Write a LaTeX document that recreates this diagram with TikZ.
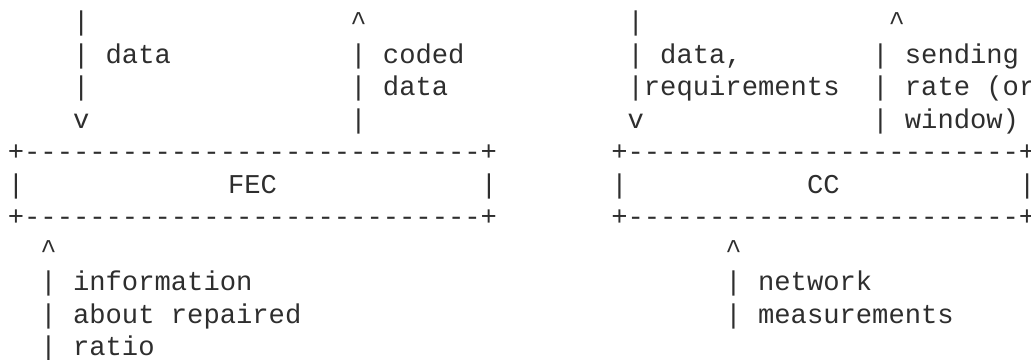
\documentclass[tikz,border=0pt]{standalone}
\usepackage{fontspec}
\setmonofont{Liberation Mono}
\definecolor{ink}{HTML}{2E2E2E}
\tikzset{ascii/.style={anchor=base west,inner sep=0pt,outer sep=0pt,text=ink,
    font=\ttfamily\fontsize{20.38pt}{24pt}\selectfont}}
\newcommand\up{\textasciicircum}
\newcommand\fecbar{+----------------------------+}
\newcommand\ccbar{+------------------------+}

\begin{document}
\begin{tikzpicture}
\useasboundingbox (0pt,0pt) rectangle (773.25pt,-270pt);
\begin{scope}[shift={(5.884pt,1.275pt)},x=12.2325pt,y=-24.375pt]
% arrows above the two blocks
\foreach \r in {1,3} \node[ascii] (fecin\r) at (4,\r) {|};
\node[ascii] (fecin2) at (4,2) {| data};
\node[ascii] (fecin4) at (4,4) {v};
\node[ascii] (fecout1) at (21,1) {\up};
\node[ascii] (fecout2) at (21,2) {| coded};
\node[ascii] (fecout3) at (21,3) {| data};
\node[ascii] (fecout4) at (21,4) {|};
\node[ascii] (ccin1) at (38,1) {|};
\node[ascii] (ccin2) at (38,2) {| data,};
\node[ascii] (ccin3) at (38,3) {|requirements};
\node[ascii] (ccin4) at (38,4) {v};
\node[ascii] (ccout1) at (54,1) {\up};
\node[ascii] (ccout2) at (53,2) {| sending};
\node[ascii] (ccout3) at (53,3) {| rate (or};
\node[ascii] (ccout4) at (53,4) {| window)};
% the blocks
\foreach \r in {5,7} {
  \node[ascii] (fecbox\r) at (0,\r) {\fecbar};
  \node[ascii] (ccbox\r) at (37,\r) {\ccbar};
}
\node[ascii] (fecl) at (0,6) {|};
\node[ascii] (fecr) at (29,6) {|};
\node[ascii,anchor=base] (fec) at (15,6) {FEC};
\node[ascii] (ccl) at (37,6) {|};
\node[ascii] (ccr) at (62,6) {|};
\node[ascii,anchor=base] (cc) at (50,6) {CC};
% feedback below
\node[ascii] (fecfb8) at (2,8) {\up};
\node[ascii] (fecfb9) at (2,9) {| information};
\node[ascii] (fecfb10) at (2,10) {| about repaired};
\node[ascii] (fecfb11) at (2,11) {| ratio};
\node[ascii] (ccfb8) at (44,8) {\up};
\node[ascii] (ccfb9) at (44,9) {| network};
\node[ascii] (ccfb10) at (44,10) {| measurements};
\end{scope}
\end{tikzpicture}
\end{document}
